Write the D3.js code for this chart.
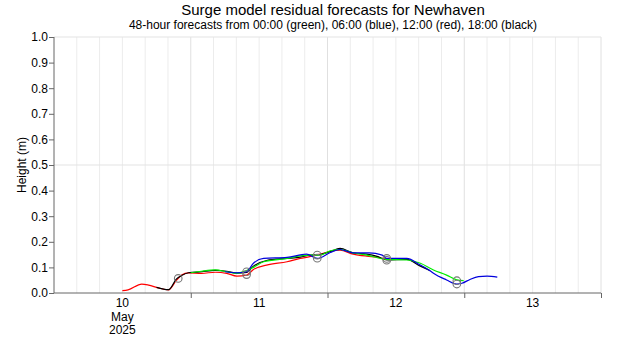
<!DOCTYPE html>
<html>
<head>
<meta charset="utf-8">
<script src="https://cdn.jsdelivr.net/npm/d3@7"></script>
<style>
  body { margin: 0; background: #fff; }
  text { font-family: "Liberation Sans", Arial, sans-serif; }
</style>
</head>
<body>
<svg id="chart" width="620" height="350"></svg>
<script>
// hours after 10 May 2025 00:00, residual height (m)
var redHours   = [12, 13, 15.4, 16.6, 18.3, 20.1, 21.5, 22.4, 23.6, 25.9, 28.3, 30.3, 32.1, 33.8, 35.0, 37.3, 40.9, 43.2, 44.9, 46.7, 48.5, 50.2, 52.5, 54.9, 56.7, 58.4, 60]
var redValues  = [0.009, 0.012, 0.035, 0.031, 0.02, 0.012, 0.05, 0.07, 0.079, 0.077, 0.081, 0.077, 0.066, 0.07, 0.092, 0.109, 0.122, 0.135, 0.142, 0.152, 0.163, 0.167, 0.152, 0.144, 0.14, 0.133, 0.132]

var blackHours  = [18, 20.1, 21.5, 22.4, 23.6, 25.9, 28.3, 30.3, 32.1, 33.8, 35.0, 37.3, 40.9, 43.2, 44.9, 46.7, 48.5, 50.2, 52.5, 54.9, 56.7, 58.4, 61.9, 64.3, 66]
var blackValues = [0.022, 0.013, 0.055, 0.068, 0.079, 0.083, 0.088, 0.085, 0.078, 0.08, 0.105, 0.127, 0.135, 0.14, 0.148, 0.15, 0.162, 0.174, 0.157, 0.152, 0.143, 0.129, 0.131, 0.105, 0.087]

var greenHours  = [24, 25.9, 28.3, 30.3, 32.1, 33.8, 35.0, 36.8, 40.9, 43.2, 44.9, 46.7, 48.5, 50.2, 52.5, 54.9, 58.4, 61.9, 64.3, 66.6, 68.9, 70.7, 71.9]
var greenValues = [0.079, 0.085, 0.09, 0.083, 0.077, 0.088, 0.1, 0.122, 0.135, 0.145, 0.148, 0.148, 0.165, 0.17, 0.157, 0.148, 0.131, 0.129, 0.116, 0.09, 0.07, 0.051, 0.048]

var blueHours  = [30, 32.1, 33.8, 35.0, 36.8, 40.9, 44.3, 46.2, 48.5, 50.2, 52.5, 55.3, 57.6, 58.4, 61.9, 64.3, 66.0, 66.6, 68.9, 70.7, 71.6, 73.0, 74.5, 76.0, 77.8]
var blueValues = [0.083, 0.079, 0.083, 0.116, 0.135, 0.139, 0.152, 0.135, 0.158, 0.17, 0.157, 0.157, 0.148, 0.135, 0.135, 0.109, 0.087, 0.077, 0.051, 0.035, 0.038, 0.053, 0.064, 0.066, 0.062]

// marked points (grey circles)
var markHours  = [21.8, 33.8, 33.8, 46.2, 46.2, 58.4, 58.4, 70.7, 70.7]
var markValues = [0.057, 0.083, 0.072, 0.148, 0.136, 0.135, 0.128, 0.035, 0.048]

var yTicks = [0, 0.1, 0.2, 0.3, 0.4, 0.5, 0.6, 0.7, 0.8, 0.9, 1.0]
var dayLabels = ["10", "11", "12", "13"]

var margin = {top: 37, right: 19, bottom: 57, left: 54}
  , width = 620 - margin.left - margin.right
  , height = 350 - margin.top - margin.bottom;

var start = new Date(2025, 4, 10)
function toDate(h) { return new Date(start.getTime() + h * 3600000) }

var x = d3.scaleTime()
    .domain([start, toDate(96)])
    .range([0, width])

var y = d3.scaleLinear()
    .domain([0, 1])
    .range([height, 0])

var svg = d3.select("#chart")
var g = svg.append("g")
    .attr("transform", "translate(" + margin.left + "," + margin.top + ")");

// gridlines
var fourHours = d3.range(4, 97, 4)
g.selectAll("line.vgrid")
    .data(fourHours)
    .enter().append("line")
    .attr("class", "vgrid")
    .attr("x1", h => x(toDate(h))).attr("x2", h => x(toDate(h)))
    .attr("y1", 0).attr("y2", height)
    .attr("stroke", h => h % 24 == 0 ? "#e0e0e0" : "#ececec")
    .attr("stroke-width", 1)

g.selectAll("line.hgrid")
    .data([0.5, 1.0])
    .enter().append("line")
    .attr("class", "hgrid")
    .attr("x1", 0).attr("x2", width)
    .attr("y1", d => y(d)).attr("y2", d => y(d))
    .attr("stroke", "#e3e3e3")

// axes
var yAxis = g.append("g")
    .call(d3.axisLeft(y).tickValues(yTicks).tickFormat(d3.format(".1f")).tickSize(5))
yAxis.select(".domain").attr("stroke", "#666").attr("d", "M0," + height + "V0")
yAxis.selectAll(".tick line").attr("stroke", "#666")
yAxis.selectAll(".tick text").attr("font-size", 12).attr("fill", "#000").attr("x", -6)

var xAxis = g.append("g")
    .attr("transform", "translate(0," + height + ")")
    .call(d3.axisBottom(x).tickValues([1, 2, 3, 4].map(d => toDate(d * 24))).tickFormat("").tickSize(5))
xAxis.select(".domain").attr("stroke", "#666").attr("d", "M0,0H" + width)
xAxis.selectAll(".tick line").attr("stroke", "#666")

var dayText = g.append("g").attr("transform", "translate(0," + height + ")")
dayText.selectAll("text.day")
    .data(dayLabels)
    .enter().append("text")
    .attr("class", "day")
    .attr("x", (d, i) => x(toDate(i * 24 + 12)))
    .attr("y", 14)
    .attr("text-anchor", "middle")
    .attr("font-size", 12)
    .text(d => d)
dayText.append("text")
    .attr("x", x(toDate(12))).attr("y", 28)
    .attr("text-anchor", "middle").attr("font-size", 12)
    .text("May")
dayText.append("text")
    .attr("x", x(toDate(12))).attr("y", 41)
    .attr("text-anchor", "middle").attr("font-size", 12)
    .text("2025")

g.append("text")
    .attr("transform", "rotate(-90)")
    .attr("x", -y(0.5))
    .attr("y", -28)
    .attr("text-anchor", "middle")
    .attr("font-size", 12)
    .text("Height (m)")

// titles
svg.append("text")
    .attr("x", 333).attr("y", 15)
    .attr("text-anchor", "middle")
    .attr("font-size", 15)
    .text("Surge model residual forecasts for Newhaven")
svg.append("text")
    .attr("x", 333).attr("y", 29)
    .attr("text-anchor", "middle")
    .attr("font-size", 12)
    .text("48-hour forecasts from 00:00 (green), 06:00 (blue), 12:00 (red), 18:00 (black)")

// forecast lines
var line = d3.line()
    .x(d => x(toDate(d[0])))
    .y(d => y(d[1]))
    .curve(d3.curveMonotoneX)

var series = [
    {color: "#ff0000", hours: redHours, values: redValues},
    {color: "#000000", hours: blackHours, values: blackValues},
    {color: "#00ee00", hours: greenHours, values: greenValues},
    {color: "#0000dd", hours: blueHours, values: blueValues}
]

g.selectAll("path.fc")
    .data(series)
    .enter().append("path")
    .attr("class", "fc")
    .attr("fill", "none")
    .attr("stroke", d => d.color)
    .attr("stroke-width", 1.2)
    .attr("d", d => line(d.hours.map((h, i) => [h, d.values[i]])))

g.selectAll("circle.mark")
    .data(markHours)
    .enter().append("circle")
    .attr("class", "mark")
    .attr("cx", h => x(toDate(h)))
    .attr("cy", (h, i) => y(markValues[i]))
    .attr("r", 3.8)
    .attr("fill", "none")
    .attr("stroke", "#777")
    .attr("stroke-width", 1.1)
</script>
</body>
</html>
